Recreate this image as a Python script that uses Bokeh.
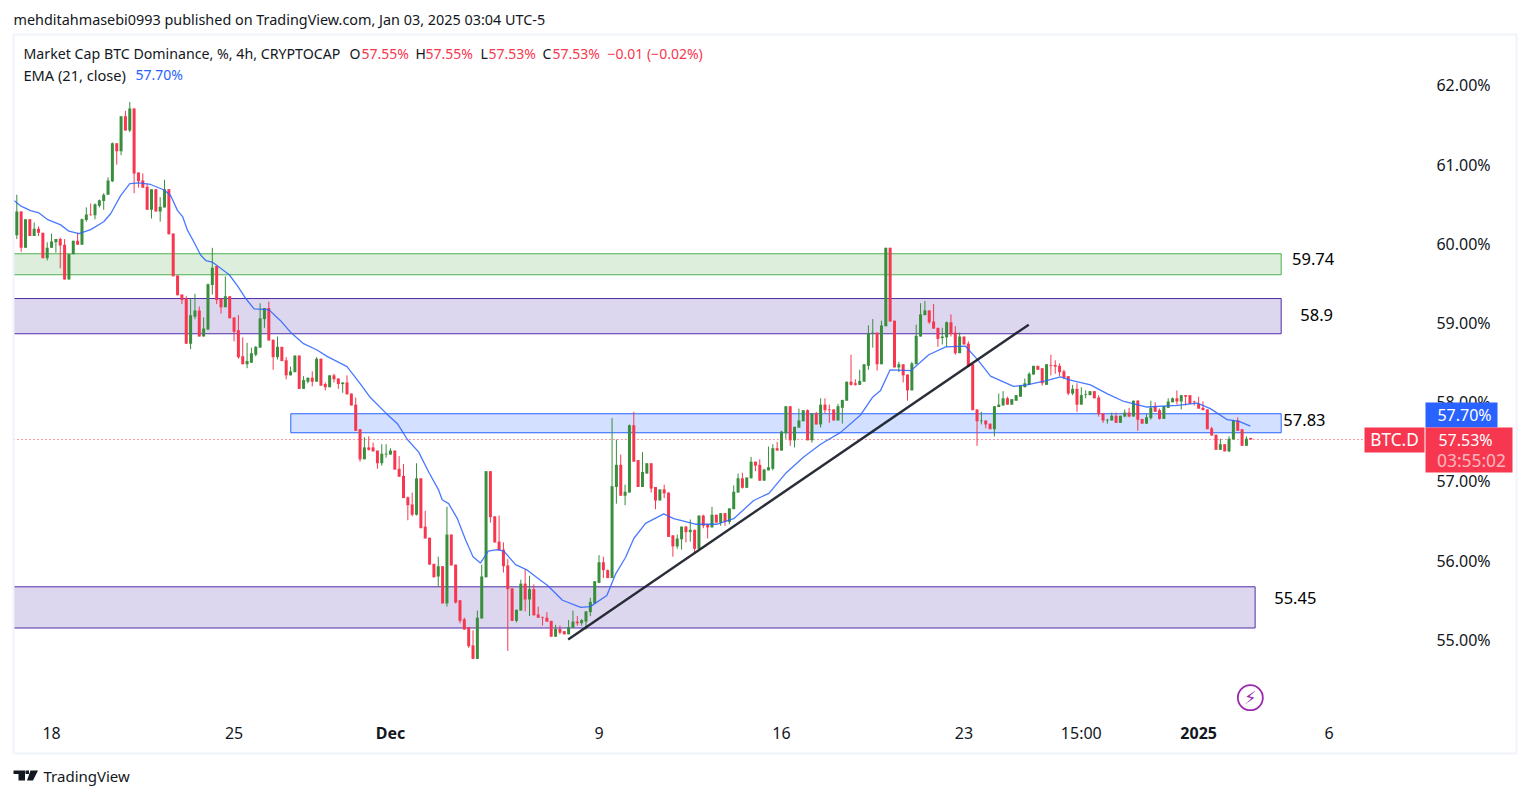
from bokeh.plotting import figure
from bokeh.models import (ColumnDataSource, Range1d, BoxAnnotation, Label, FixedTicker,
                          PrintfTickFormatter, PolyAnnotation)
from bokeh.core.properties import value
from bokeh.embed import file_html
from bokeh.resources import INLINE

opens = [
60.11,60.41,59.95,60.31,60.10,60.19,60.14,59.82,59.95,60.02,
60.06,59.99,59.55,59.87,60.04,59.99,60.30,60.37,60.36,60.48,
60.54,60.62,60.79,61.27,61.17,61.61,61.43,61.71,60.90,60.80,
60.72,60.43,60.69,60.41,60.46,60.69,60.13,59.60,59.36,59.31,
58.74,59.08,59.16,58.83,58.92,59.48,59.72,59.31,59.20,59.34,
59.07,58.91,58.58,58.48,58.50,58.60,58.69,59.05,59.19,58.79,
58.57,58.70,58.53,58.34,58.38,58.59,58.17,58.26,58.31,58.26,
58.55,58.23,58.19,58.34,58.30,58.23,58.25,58.11,57.97,57.66,
57.28,57.43,57.43,57.39,57.23,57.34,57.34,57.39,57.16,57.07,
56.80,56.71,56.58,57.04,56.43,56.29,55.96,55.80,55.93,55.46,
56.33,55.95,55.50,55.26,55.16,54.93,54.76,55.27,55.79,57.13,
56.56,56.24,56.14,55.94,55.65,55.24,55.37,55.71,55.51,55.64,
55.32,55.29,55.28,55.24,55.04,55.14,55.11,55.07,55.15,55.23,
55.21,55.23,55.35,55.46,55.72,55.98,55.88,55.78,56.93,57.21,
56.82,56.86,57.71,57.27,56.93,57.10,57.23,56.93,56.76,56.90,
56.86,56.32,56.18,56.27,56.43,56.36,56.39,56.15,56.57,56.46,
56.42,56.58,56.48,56.60,56.49,56.65,56.86,57.04,56.92,57.04,
57.25,57.21,57.01,57.14,57.16,57.42,57.39,57.61,57.95,57.52,
57.68,57.76,57.90,57.52,57.86,57.72,57.97,57.91,57.91,57.77,
57.93,58.02,58.26,58.24,58.22,58.26,58.46,58.87,58.88,58.48,
58.96,59.95,59.03,58.44,58.48,58.35,58.15,58.48,58.83,59.10,
59.16,59.02,58.94,58.81,58.82,59.01,58.88,58.62,58.83,58.74,
58.48,57.91,57.76,57.77,57.73,57.66,57.94,57.96,58.05,57.97,
58.02,58.07,58.19,58.22,58.35,58.46,58.43,58.22,58.47,58.47,
58.46,58.39,58.33,58.11,58.17,57.97,58.09,58.09,58.14,58.06,
57.86,57.77,57.77,57.83,57.74,57.82,57.87,57.82,58.02,57.79,
57.73,57.80,57.95,57.90,57.79,57.93,58.00,58.05,58.01,58.09,
58.09,58.01,57.98,57.93,57.91,57.67,57.59,57.40,57.47,57.38,
57.53,57.77,57.66,57.45,57.55]

closes = [
60.41,59.95,60.31,60.10,60.19,60.14,59.82,59.95,60.03,60.06,
59.98,59.55,59.87,60.04,59.99,60.31,60.37,60.36,60.50,60.55,
60.62,60.80,61.27,61.17,61.61,61.43,61.71,60.89,60.79,60.71,
60.43,60.69,60.41,60.47,60.69,60.12,59.59,59.35,59.29,58.74,
59.10,59.16,58.83,58.93,59.49,59.70,59.29,59.20,59.34,59.06,
58.89,58.57,58.48,58.52,58.62,58.70,59.06,59.19,58.78,58.57,
58.70,58.52,58.34,58.39,58.59,58.17,58.28,58.31,58.26,58.55,
58.21,58.19,58.34,58.29,58.23,58.25,58.10,57.96,57.64,57.28,
57.43,57.40,57.38,57.23,57.35,57.35,57.39,57.15,57.06,56.79,
56.70,56.58,57.04,56.41,56.28,55.95,55.79,55.93,55.46,56.33,
55.94,55.47,55.24,55.13,54.92,54.76,55.28,55.80,57.13,56.55,
56.23,56.13,55.93,55.64,55.24,55.38,55.71,55.51,55.64,55.31,
55.28,55.28,55.23,55.04,55.14,55.09,55.07,55.16,55.23,55.21,
55.25,55.36,55.48,55.74,55.98,55.88,55.78,56.94,57.21,56.82,
56.87,57.71,57.25,56.93,57.12,57.23,56.91,56.76,56.90,56.85,
56.30,56.18,56.28,56.43,56.36,56.39,56.15,56.57,56.44,56.42,
56.58,56.48,56.60,56.49,56.66,56.87,57.04,56.92,57.05,57.25,
57.20,57.01,57.15,57.18,57.42,57.39,57.63,57.95,57.52,57.69,
57.77,57.90,57.52,57.86,57.72,57.97,57.90,57.90,57.77,57.95,
58.03,58.26,58.22,58.22,58.27,58.48,58.87,58.88,58.48,58.97,
59.95,59.02,58.44,58.48,58.34,58.15,58.49,58.84,59.11,59.16,
59.01,58.93,58.80,58.83,59.01,58.86,58.62,58.83,58.73,58.45,
57.90,57.76,57.77,57.72,57.66,57.95,57.97,58.05,57.97,58.04,
58.09,58.21,58.24,58.36,58.46,58.41,58.24,58.48,58.46,58.45,
58.38,58.31,58.11,58.17,57.97,58.09,58.10,58.14,58.05,57.85,
57.77,57.78,57.83,57.74,57.83,57.87,57.82,58.02,57.78,57.73,
57.81,57.93,57.88,57.79,57.95,58.01,58.05,58.01,58.09,58.07,
57.98,58.00,57.92,57.90,57.66,57.58,57.40,57.47,57.38,57.54,
57.77,57.64,57.45,57.54,57.53]

highs = [
60.62,60.41,60.31,60.31,60.27,60.22,60.14,60.02,60.13,60.06,
60.08,60.06,59.87,60.04,60.14,60.32,60.46,60.51,60.51,60.56,
60.64,60.84,61.28,61.27,61.61,61.68,61.79,61.71,60.90,60.89,
60.76,60.69,60.69,60.59,60.81,60.69,60.13,59.60,59.36,59.34,
59.31,59.37,59.21,59.07,59.50,59.95,59.72,59.31,59.59,59.34,
59.07,59.10,58.82,58.75,58.69,58.71,59.25,59.19,59.27,58.79,
58.83,58.70,58.57,58.45,58.59,58.59,58.33,58.31,58.39,58.57,
58.55,58.25,58.34,58.36,58.30,58.25,58.34,58.11,58.06,57.66,
57.56,57.57,57.49,57.39,57.47,57.47,57.42,57.39,57.32,57.22,
56.81,56.86,57.23,57.04,56.63,56.29,55.96,56.05,55.93,56.68,
56.33,55.95,55.50,55.28,55.16,55.12,55.37,55.95,57.13,57.13,
56.56,56.57,56.23,56.02,55.65,55.38,55.76,55.89,55.81,55.70,
55.42,55.29,55.35,55.24,55.19,55.18,55.11,55.25,55.37,55.30,
55.26,55.36,55.53,55.74,56.07,56.05,55.89,57.80,57.53,57.34,
56.96,57.72,57.88,57.27,57.37,57.23,57.23,56.93,56.90,56.96,
56.86,56.32,56.33,56.43,56.44,56.52,56.39,56.57,56.58,56.46,
56.68,56.58,56.60,56.60,56.66,56.95,57.10,57.11,57.05,57.31,
57.25,57.28,57.16,57.44,57.47,57.50,57.64,57.95,57.95,57.69,
57.92,57.90,57.91,57.86,57.88,58.05,58.05,57.97,57.91,57.98,
58.03,58.26,58.60,58.29,58.41,58.48,58.97,59.05,58.88,59.03,
59.95,59.95,59.03,58.51,58.48,58.35,58.51,58.98,59.25,59.28,
59.16,59.24,58.94,58.94,59.02,59.11,58.96,58.88,58.83,58.77,
58.48,57.91,57.88,57.77,57.73,57.95,58.11,58.14,58.07,58.04,
58.09,58.21,58.30,58.38,58.46,58.46,58.43,58.48,58.60,58.53,
58.49,58.41,58.33,58.22,58.24,58.19,58.15,58.14,58.14,58.09,
57.86,57.79,57.87,57.87,57.83,57.91,57.93,58.02,58.03,57.79,
57.85,58.02,58.00,57.92,57.95,58.05,58.06,58.15,58.09,58.09,
58.09,58.02,58.07,58.01,57.91,57.69,57.59,57.54,57.47,57.57,
57.78,57.81,57.66,57.57,57.55]

lows = [
60.06,59.90,59.95,60.10,60.10,60.10,59.82,59.79,59.95,59.89,
59.69,59.55,59.55,59.87,59.99,59.99,60.28,60.36,60.31,60.46,
60.43,60.62,60.78,61.00,61.12,61.43,61.41,60.64,60.71,60.71,
60.43,60.32,60.41,60.28,60.46,60.12,59.59,59.35,59.24,58.74,
58.67,59.05,58.83,58.83,58.91,59.36,59.24,59.12,59.20,59.06,
58.77,58.55,58.48,58.43,58.50,58.58,58.69,58.94,58.78,58.41,
58.54,58.52,58.29,58.34,58.38,58.17,58.17,58.24,58.20,58.26,
58.21,58.15,58.19,58.25,58.17,58.12,58.10,57.96,57.64,57.25,
57.28,57.39,57.38,57.16,57.20,57.30,57.34,57.15,57.06,56.79,
56.51,56.56,56.57,56.41,56.28,55.95,55.79,55.67,55.46,55.42,
55.94,55.46,55.21,55.13,54.90,54.76,54.76,55.27,55.79,56.48,
56.23,56.13,55.85,54.86,55.24,55.22,55.37,55.36,55.30,55.31,
55.28,55.18,55.23,55.04,55.04,55.07,55.07,55.07,55.15,55.18,
55.18,55.13,55.30,55.46,55.72,55.78,55.78,55.78,56.72,56.82,
56.70,56.86,57.25,56.93,56.93,57.10,56.86,56.65,56.76,56.79,
56.30,56.05,56.15,56.14,56.23,56.24,56.10,56.15,56.41,56.28,
56.42,56.48,56.44,56.44,56.46,56.65,56.86,56.91,56.92,57.04,
57.13,57.01,57.01,57.14,57.14,57.39,57.39,57.54,57.45,57.43,
57.68,57.76,57.52,57.49,57.72,57.68,57.86,57.74,57.77,57.77,
57.73,58.02,58.21,58.21,58.22,58.26,58.41,58.69,58.40,58.48,
58.96,59.02,58.44,58.38,58.25,58.02,58.15,58.48,58.83,59.10,
58.99,58.93,58.70,58.73,58.70,58.83,58.60,58.62,58.73,58.45,
57.90,57.45,57.72,57.67,57.66,57.57,57.94,57.96,57.97,57.97,
58.02,58.07,58.19,58.22,58.35,58.41,58.21,58.22,58.34,58.36,
58.33,58.29,58.09,58.09,57.88,57.97,58.05,58.09,58.05,57.82,
57.74,57.73,57.77,57.74,57.74,57.81,57.81,57.82,57.64,57.73,
57.73,57.78,57.88,57.78,57.79,57.93,58.00,57.97,57.91,57.96,
57.98,57.96,57.92,57.90,57.66,57.58,57.40,57.40,57.38,57.37,
57.53,57.64,57.45,57.45,57.53]

ema_idx = [-0.7,0.85,3.15,5.1,7,10.1,12,14.3,17,20,21.6,23.9,26,28.1,30.8,33.9,35.4,37,38.2,39.3,40.8,
           42.3,43.5,45,48.9,50.8,52.7,54.6,58,60.7,63,66,69.1,71.4,76,78.8,81.2,85.2,87.6,89.9,92.5,94.8,97.1,97.9,
           99.4,101.4,103.3,105,106.7,108.5,110.6,112.1,114.8,117.5,120.6,122.1,125.6,129.8,132,135.8,137.8,140.1,142,
           144.7,148.9,151.2,156.2,161.2,165,169.6,173.1,176.9,181.1,185,189.6,194.2,196.9,198.8,201,205.8,209.9,213.8,
           218.3,221.4,224.1,229.4,232.5,236.7,240.2,242.5,247.1,250.9,254.8,260.1,267.1,271.7,274.7,278.6,281.3,283.9]
ema_val = [60.55,60.48,60.42,60.39,60.31,60.24,60.16,60.13,60.18,60.28,60.38,60.61,60.76,60.77,60.75,60.68,60.61,60.42,60.34,60.17,60.02,
           59.86,59.79,59.77,59.61,59.47,59.31,59.18,59.17,59.03,58.885,58.74,58.66,58.58,58.45,58.25,58.07,57.85,57.73,57.53,57.37,57.12,56.89,56.77,
           56.72,56.53,56.26,56.05,55.97,56.12,56.14,56.12,55.95,55.88,55.75,55.69,55.50,55.41,55.42,55.56,55.83,56.04,56.28,
           56.47,56.59,56.53,56.46,56.46,56.53,56.76,56.85,57.10,57.31,57.47,57.62,57.84,58.06,58.15,58.41,58.40,58.60,58.70,
           58.71,58.52,58.33,58.20,58.22,58.27,58.32,58.28,58.22,58.11,58.01,57.94,57.96,57.99,57.92,57.78,57.76,57.70]

zone_names = ["resistance", "upper", "pivot", "support"]
zone_top = [59.875, 59.31, 57.855, 55.67]
zone_bottom = [59.61, 58.865, 57.615, 55.15]
zone_start = [-0.76, -0.76, 63.06, -0.76]
zone_end = [291.0, 291.0, 291.0, 285.0]
zone_fill = ["#ddefdc", "#dcd6ee", "#d3e0ff", "#dcd6ee"]
zone_line = ["#4caf50", "#512da8", "#2962ff", "#512da8"]

zone_text = ["59.74", "58.9", "57.83", "55.45"]
zone_text_x = [293.5, 295.4, 291.5, 289.4]
zone_text_y = [59.81, 59.105, 57.775, 55.53]

trend_x = [126.9, 232.9]
trend_y = [55.005, 58.98]

price_ticks = [55, 56, 57, 58, 59, 60, 61, 62]
time_ticks = [8, 50, 86, 134, 176, 218, 245, 272, 302]
time_labels = ["18", "25", "Dec", "9", "16", "23", "15:00", "2025", "6"]
bold_labels = {"Dec", "2025"}

last_close = 57.53
last_ema = 57.70
price_line_x = [-0.76, 310.2]
bolt_x, bolt_y = 283.9, 54.27

GREEN, RED, BLUE, INK = "#388e3c", "#f7374f", "#2962ff", "#131722"
FONT = "Noto Sans"

W, H = 1525, 790
p = figure(width=W, height=H, output_backend="svg", toolbar_location=None,
           x_range=Range1d(-3.751, 347.23), y_range=Range1d(53.098, 63.073),
           y_axis_location="right", min_border_left=0, min_border_right=0,
           min_border_top=0, min_border_bottom=0, outline_line_color=None,
           background_fill_color="white", border_fill_color="white")
p.grid.visible = False

xa = p.xaxis[0]
xa.fixed_location = 54.045
xa.ticker = FixedTicker(ticks=time_ticks)
xa.major_label_overrides = {t: ("" if l in bold_labels else l) for t, l in zip(time_ticks, time_labels)}
xa.axis_line_color = None
xa.major_tick_line_color = None
xa.minor_tick_line_color = None
xa.major_label_text_font = FONT
xa.major_label_text_font_size = "16px"
xa.major_label_text_color = INK
xa.major_label_standoff = 1

ya = p.yaxis[0]
ya.fixed_location = 324.2
ya.ticker = FixedTicker(ticks=price_ticks)
ya.formatter = PrintfTickFormatter(format="%.2f%%")
ya.axis_line_color = None
ya.major_tick_line_color = None
ya.minor_tick_line_color = None
ya.major_label_text_font = FONT
ya.major_label_text_font_size = "16px"
ya.major_label_text_color = INK
ya.major_label_standoff = 5


def chrome_box(left, right, top, bottom, fill, line=None, lw=1):
    p.add_layout(BoxAnnotation(left=left, right=right, top=top, bottom=bottom,
                               left_units="canvas", right_units="canvas", top_units="canvas", bottom_units="canvas",
                               fill_color=fill, fill_alpha=1 if fill else 0, line_color=line, line_width=lw,
                               line_alpha=1 if line else 0))


def chrome_text(x, y, text, color=INK, size="14px", align="left", style="normal", font=FONT, alpha=1.0):
    p.add_layout(Label(x=x, y=y, x_units="canvas", y_units="canvas", text=text, text_color=color,
                       text_font_size=size, text_align=align, text_baseline="middle", text_font=font,
                       text_font_style=style, text_alpha=alpha))


# zones
p.quad(left=zone_start, right=zone_end, top=zone_top, bottom=zone_bottom, fill_color=zone_fill,
       line_color=zone_line, line_width=1)

# price line
p.line(price_line_x, [last_close, last_close], line_color="#f23645", line_dash="1 3", line_width=1)

# candles
idx = list(range(len(opens)))
src = ColumnDataSource(dict(x=idx, o=opens, c=closes, h=highs, l=lows,
                            col=[GREEN if c > o else RED for o, c in zip(opens, closes)],
                            top=[max(o, c) for o, c in zip(opens, closes)],
                            bot=[min(o, c) for o, c in zip(opens, closes)]))
p.segment(x0="x", x1="x", y0="l", y1="h", color="col", line_width=1, source=src)
p.vbar(x="x", width=0.69, top="top", bottom="bot", fill_color="col", line_color=None, source=src)

# EMA
p.line(ema_idx, ema_val, line_color=BLUE, line_width=1.3, line_alpha=0.85)

# trend line
p.line(trend_x, trend_y, line_color=INK, line_width=2.4, line_alpha=0.9)

# zone labels
p.text(zone_text_x, zone_text_y, text=zone_text, text_font=value(FONT), text_font_size="16.5px",
       text_color="#000000", text_align="left", text_baseline="middle")

# bolt marker
p.scatter([bolt_x], [bolt_y], marker="circle", size=25, fill_color="white", line_color="#9c27b0", line_width=1.8)
p.text([bolt_x], [bolt_y], text=["\u26a1"], text_font=value("DejaVu Sans"), text_font_size="18px",
       text_color="#9c27b0", text_align="center", text_baseline="middle")

# bold time labels
for t, l in zip(time_ticks, time_labels):
    if l in bold_labels:
        p.add_layout(Label(x=t, y=732.5, y_units="canvas", text=l, text_font=FONT, text_font_size="16px",
                           text_font_style="bold", text_color=INK, text_align="center", text_baseline="middle"))

# outer border
chrome_box(13, 1516, 34, 753, None, "#f0f3fa", 2)

# price tags
chrome_box(1425, 1497, 402, 427, BLUE)
chrome_box(1425, 1512, 427, 472, RED)
chrome_box(1364, 1424, 427, 452, RED)
chrome_text(1464, 414, "%.2f%%" % last_ema, "#ffffff", "16px", "center")
chrome_text(1465, 439, "%.2f%%" % last_close, "#ffffff", "16px", "center")
chrome_text(1471, 459, "03:55:02", "#ffffff", "17.4px", "center", alpha=0.65)
chrome_text(1394, 439, "BTC.D", "#ffffff", "17.2px", "center")

# header
chrome_text(13, 19, "mehditahmasebi0993 published on TradingView.com, Jan 03, 2025 03:04 UTC-5", INK, "14.4px")
chrome_text(23, 53, "Market Cap BTC Dominance, %, 4h, CRYPTOCAP", INK, "14.2px")
legend_items = [("O", 349, INK), ("57.55%", 361, RED), ("H", 415, INK), ("57.55%", 425, RED), ("L", 480, INK),
                ("57.53%", 488, RED), ("C", 542, INK), ("57.53%", 552, RED), ("\u22120.01 (\u22120.02%)", 607, RED)]
for t, x, col in legend_items:
    chrome_text(x, 53, t, col, "14px")
chrome_text(23, 74, "EMA (21, close)", INK, "14.6px")
chrome_text(135, 74, "57.70%", BLUE, "14px")

# footer brand
BRAND_BAR = ([13, 24.5, 24.5, 18, 18, 13], [770, 770, 780, 780, 773.5, 773.5])
BRAND_DOT = ([25, 28.5, 28.5, 25], [770, 770, 773.5, 773.5])
BRAND_SLANT = ([30, 37.5, 32.5, 26.5], [770, 770, 780, 780])
for xs, ys in (BRAND_BAR, BRAND_DOT, BRAND_SLANT):
    p.add_layout(PolyAnnotation(xs=xs, ys=ys, xs_units="canvas", ys_units="canvas", fill_color=INK, fill_alpha=1,
                                line_color=None))
chrome_text(43, 775, "TradingView", INK, "15px")

open("out.html", "w").write(file_html(p, INLINE))
